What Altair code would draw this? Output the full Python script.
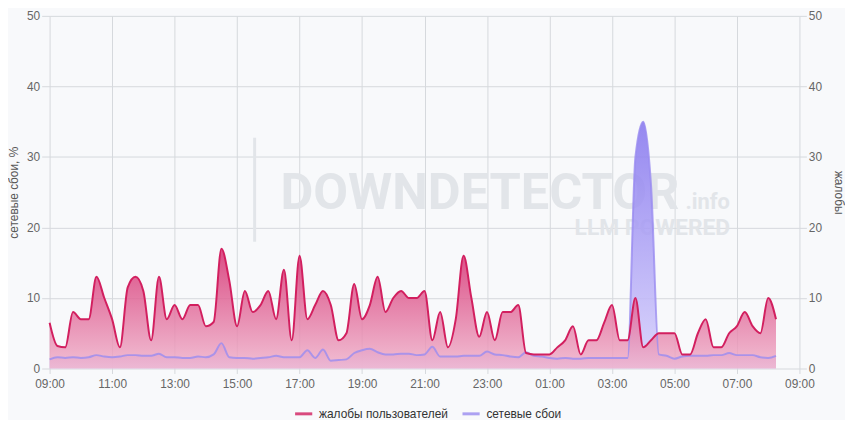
import altair as alt
import pandas as pd

# quarter-hour time stamps starting at 09:00
times = [f"{(9 + i // 4) % 24:02d}:{(i % 4) * 15:02d}" for i in range(94)]

complaints = [
    6.5, 3.2, 3.0, 8.0, 7.0, 7.0, 13.0, 10.0, 7.0, 3.0, 11.5, 13.0, 11.0, 4.0, 13.0, 7.0,
    9.0, 7.0, 9.0, 9.0, 6.0, 6.6, 17.0, 12.5, 6.0, 11.0, 8.0, 9.0, 11.0, 7.0, 14.0, 4.0,
    16.0, 7.0, 9.0, 11.0, 9.0, 4.0, 5.0, 12.0, 7.0, 9.0, 13.0, 8.0, 10.0, 11.0, 10.0, 10.0,
    11.0, 4.0, 8.0, 3.0, 7.0, 16.0, 10.0, 4.5, 8.0, 4.0, 8.0, 8.0, 9.0, 2.2, 2.0, 2.0,
    2.0, 3.0, 4.0, 6.0, 2.0, 4.0, 4.0, 6.5, 9.0, 4.0, 4.0, 10.0, 3.0, 4.0, 5.0, 5.0,
    5.0, 2.0, 2.0, 5.0, 7.0, 3.0, 3.0, 5.0, 6.0, 8.0, 6.0, 5.0, 10.0, 7.0,
]

failures = [
    1.3, 1.6, 1.5, 1.6, 1.5, 1.6, 1.9, 1.7, 1.6, 1.7, 1.9, 1.9, 1.8, 1.8, 2.1, 1.6,
    1.6, 1.5, 1.5, 1.7, 1.6, 2.0, 3.6, 1.6, 1.5, 1.5, 1.4, 1.5, 1.6, 1.8, 1.6, 1.6,
    1.6, 2.6, 1.5, 2.7, 1.1, 1.2, 1.3, 2.2, 2.6, 2.8, 2.3, 2.0, 2.0, 2.1, 2.1, 1.9,
    2.0, 3.1, 1.7, 1.7, 1.7, 1.8, 1.8, 1.8, 2.4, 2.0, 1.9, 1.7, 1.6, 2.3, 1.8, 1.7,
    1.5, 1.4, 1.5, 1.4, 1.4, 1.5, 1.5, 1.5, 1.5, 1.5, 1.5, 30.0, 35.0, 26.0, 2.0, 1.8,
    1.4, 1.7, 1.8, 1.8, 1.8, 1.9, 1.9, 2.2, 1.9, 1.9, 1.9, 1.6, 1.5, 1.8,
]

series_names = ["жалобы пользователей", "сетевые сбои"]
series_colors = ["#d21f5f", "#9a8cf0"]
x_ticks = list(range(0, 25, 2))
y_ticks = [0, 10, 20, 30, 40, 50]


def offset(t):
    h, m = map(int, t.split(":"))
    v = h + m / 60 - 9
    return v + 24 if v < 0 else v


t_hours = [offset(t) for t in times]
df_c = pd.DataFrame({"t": t_hours, "v": complaints, "series": series_names[0]})
df_f = pd.DataFrame({"t": t_hours, "v": failures, "series": series_names[1]})

GRID = "#d6d9dd"
FONT = "Liberation Sans"

x_enc = alt.X(
    "t:Q",
    scale=alt.Scale(domain=[0, 24], nice=False, zero=False),
    axis=alt.Axis(
        values=x_ticks, title=None, grid=True, gridColor=GRID, domain=False,
        tickSize=5, tickColor=GRID, labelPadding=5, labelFlush=False,
        labelExpr="((datum.value + 9) % 24 < 10 ? '0' : '') + ((datum.value + 9) % 24) + ':00'",
    ),
)

y_scale = alt.Scale(domain=[0, 50], nice=False)

left_axis = alt.Axis(
    orient="left", values=y_ticks, grid=True, gridColor=GRID, domain=False,
    tickSize=8, tickColor=GRID, labelPadding=2, title="сетевые сбои, %",
    titleAngle=-90, titleX=-36, titleY=178, titleAlign="center", titleBaseline="middle",
)
right_axis = alt.Axis(
    orient="right", values=y_ticks, grid=False, domain=False,
    tickSize=7, tickColor=GRID, labelPadding=2, title="жалобы",
    titleAngle=90, titleX=39, titleY=178, titleAlign="center", titleBaseline="middle",
)

grad_c = alt.Gradient(
    gradient="linear", x1=0, x2=0, y1=0, y2=1,
    stops=[alt.GradientStop(color="#d4266a", offset=0), alt.GradientStop(color="#f0b2cb", offset=1)],
)
grad_f = alt.Gradient(
    gradient="linear", x1=0, x2=0, y1=0, y2=1,
    stops=[alt.GradientStop(color="#8474ee", offset=0), alt.GradientStop(color="#d6d0fc", offset=1)],
)

color_enc = alt.Color(
    "series:N",
    scale=alt.Scale(domain=series_names, range=series_colors),
    legend=alt.Legend(
        title=None, orient="none", legendX=246, legendY=391, direction="horizontal",
        symbolType="stroke", symbolStrokeWidth=3, symbolSize=300, labelFontSize=12,
        labelColor="#333", labelFont=FONT, columnPadding=7, labelOffset=5,
    ),
)

area_f = alt.Chart(df_f).mark_area(interpolate="monotone", fill=grad_f, fillOpacity=0.85).encode(
    x=x_enc, y=alt.Y("v:Q", scale=y_scale, axis=left_axis)
)
area_c = alt.Chart(df_c).mark_area(interpolate="monotone", fill=grad_c, fillOpacity=0.82).encode(
    x=x_enc, y=alt.Y("v:Q", scale=y_scale, axis=None)
)
line_f = alt.Chart(df_f).mark_line(interpolate="monotone", strokeWidth=2, opacity=0.8).encode(
    x=x_enc, y=alt.Y("v:Q", scale=y_scale, axis=None), color=color_enc
)
line_c = alt.Chart(df_c).mark_line(interpolate="monotone", strokeWidth=2).encode(
    x=x_enc, y=alt.Y("v:Q", scale=y_scale, axis=right_axis), color=color_enc
)

# watermark
WM = "#e2e5e9"
wm_main = alt.Chart(pd.DataFrame({"s": ["DOWNDETECTOR"]})).mark_text(
    font="Roboto", fontWeight="bold", fontSize=51, color=WM, align="left", baseline="alphabetic"
).encode(x=alt.value(233), y=alt.value(195), text="s:N")
wm_info = alt.Chart(pd.DataFrame({"s": [".info"]})).mark_text(
    font="Roboto", fontWeight="bold", fontSize=22, color=WM, align="left", baseline="alphabetic"
).encode(x=alt.value(642), y=alt.value(195), text="s:N")
wm_llm = alt.Chart(pd.DataFrame({"s": ["LLM POWERED"]})).mark_text(
    font="Roboto", fontWeight="bold", fontSize=23, color=WM, align="right", baseline="alphabetic"
).encode(x=alt.value(687), y=alt.value(221), text="s:N")
wm_bar = alt.Chart(pd.DataFrame({"s": ["bar"]})).mark_rule(color=WM, strokeWidth=3).encode(
    x=alt.value(207), y=alt.value(123), y2=alt.value(228)
)

chart = (
    alt.layer(wm_bar, wm_main, wm_info, wm_llm, area_f, area_c, line_f, line_c)
    .resolve_scale(y="independent")
    .properties(
        width=757, height=356,
        autosize=alt.AutoSizeParams(type="none"),
        padding={"left": 42, "top": 6, "right": 46, "bottom": 50},
        background="#f8f9fb",
    )
    .configure_view(stroke=None)
    .configure_axis(
        labelFont=FONT, labelFontSize=12, labelColor="#666",
        titleFont=FONT, titleFontSize=12, titleColor="#555", titleFontWeight="normal",
    )
)

chart.save("out.html", embed_options={"renderer": "svg", "actions": False})
